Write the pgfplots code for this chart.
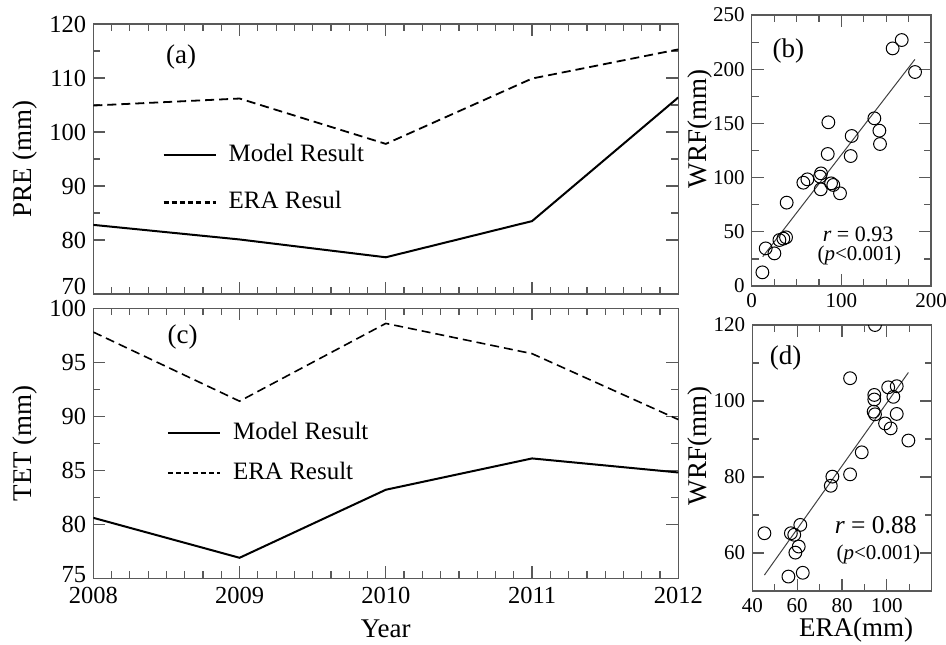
\documentclass[border=0pt]{standalone}
\usepackage{fontspec}
\setmainfont{Liberation Serif}
\usepackage{pgfplots}
\pgfplotsset{compat=1.18}
\begin{document}
\begin{tikzpicture}
\useasboundingbox (0pt,0pt) rectangle (473pt,322pt);
\pgfplotsset{
  base/.style={scale only axis, anchor=south west,
    axis line style={black!65, line width=0.6pt},
    every tick/.style={black!65, line width=0.6pt},
    major tick length=6pt, minor tick length=3.5pt, tick align=inside,
    /pgf/number format/assume math mode=true,
    /pgf/number format/1000 sep={},
    clip marker paths=true},
  leftp/.style={base, width=292.5pt, height=135pt, xmin=2008, xmax=2012,
    xtick={2008,2009,2010,2011,2012}, minor x tick num=7, minor y tick num=1,
    tick label style={font=\fontsize{12.25}{14}\selectfont},
    label style={font=\fontsize{13.5}{16}\selectfont},
    ylabel style={at={(axis description cs:-0.116,0.5)}, anchor=center},
    legend image code/.code={\draw[##1] (0pt,0pt) -- (26pt,0pt);},
    legend cell align=left,
    legend style={draw=none, fill=none, inner sep=0pt, anchor=west,
      font=\fontsize{12.5}{14}\selectfont,
      nodes={inner sep=0pt, text height=9pt, text depth=3pt},
      /tikz/every odd column/.append style={column sep=6pt}}},
  rightp/.style={base,
    tick label style={font=\fontsize{10.5}{12}\selectfont},
    label style={font=\fontsize{13.5}{16}\selectfont}},
  sc/.style={only marks, mark=o, mark size=3.2pt, black, line width=0.5pt},
  reg/.style={black!75, line width=0.5pt},
}
% (a)
\begin{axis}[leftp, at={(46.65pt,175pt)}, ymin=70, ymax=120,
  ytick={80,90,...,120}, extra y ticks={70},
  extra y tick style={yticklabel style={yshift=4pt}},
  xticklabels={}, ylabel={PRE (mm)},
  legend style={at={(axis cs:2008.47,91.3)}, /tikz/row sep=11.5pt}]
\addlegendimage{black, line width=1pt}
\addlegendentry{Model Result}
\addlegendimage{black, line width=1.1pt, dash pattern=on 2.5pt off 1.6pt}
\addlegendentry{ERA Resul}
\addplot[black, line width=1pt, forget plot] coordinates {(2008,82.8)(2009,80.1)(2010,76.8)(2011,83.5)(2012,106.4)};
\addplot[black, line width=0.9pt, dash pattern=on 4.5pt off 2.5pt, forget plot] coordinates {(2008,104.9)(2009,106.2)(2010,97.8)(2011,109.9)(2012,115.3)};
\node[font=\fontsize{13.5}{16}\selectfont] at (axis cs:2008.6,113.8) {(a)};
\end{axis}
% (c)
\begin{axis}[leftp, at={(46.65pt,32.85pt)}, ymin=75, ymax=100,
  ytick={80,85,...,95}, extra y ticks={75,100},
  extra y tick labels={\raisebox{3.5pt}{75},\raisebox{-1.5pt}{100}},
  xticklabel style={yshift=-1pt},
  ylabel={TET (mm)}, xlabel={Year},
  xlabel style={at={(axis description cs:0.5,-0.188)}, anchor=center},
  legend style={at={(axis cs:2008.5,86.6)}, /tikz/row sep=8pt}]
\addlegendimage{black, line width=1pt}
\addlegendentry{Model Result}
\addlegendimage{black, line width=1.1pt, dash pattern=on 2.5pt off 1.6pt}
\addlegendentry{ERA Result}
\addplot[black, line width=1pt, forget plot] coordinates {(2008,80.6)(2009,76.9)(2010,83.2)(2011,86.1)(2012,84.8)};
\addplot[black, line width=0.8pt, dash pattern=on 4.5pt off 2.5pt, forget plot] coordinates {(2008,97.8)(2009,91.4)(2010,98.6)(2011,95.8)(2012,89.7)};
\node[font=\fontsize{13.5}{16}\selectfont] at (axis cs:2008.61,97.3) {(c)};
\end{axis}
% (b)
\begin{axis}[rightp, at={(375.85pt,179pt)}, width=89.65pt, height=135.5pt,
  xmin=0, xmax=200, ymin=0, ymax=250, xtick={0,100,200}, minor x tick num=3,
  ytick={0,50,...,250}, minor y tick num=1, ylabel={WRF(mm)},
  ylabel style={at={(axis description cs:-0.29,0.58)}, anchor=center}]
\addplot[reg] coordinates {(12.3,27)(182,209)};
\addplot[sc] coordinates {
(11.9,12.6)(15.6,34.7)(25.3,30.1)(30.9,42.4)(35.3,43.7)(38.3,44.9)(39,76.9)
(57.6,95.3)(62.1,98.4)(77,89.2)(77.3,103.9)(76.2,100.9)(84.8,121.8)(85.5,151)
(88.5,94.7)(91,93.2)(98.5,85.5)(110.4,119.9)(111.5,138.4)(136.8,154.7)
(142.4,143.3)(143.1,131)(157.2,219.2)(167.3,226.9)(182.2,197.4)};
\node[font=\fontsize{13.5}{16}\selectfont] at (axis cs:40.8,216.8) {(b)};
\node[font=\fontsize{11}{13}\selectfont, inner sep=0pt] at (axis cs:118.6,47.5) {\textit{r} = 0.93};
\node[font=\fontsize{10.5}{12}\selectfont, inner sep=0pt] at (axis cs:120,27.8) {(\textit{p}<0.001)};
\end{axis}
% (d)
\begin{axis}[rightp, at={(376.15pt,26.5pt)}, width=89.7pt, height=133pt,
  xmin=40, xmax=120, ymin=50, ymax=120, xtick={40,60,80,100},
  minor xtick={50,70,90,110}, ytick={60,80,100,120}, minor ytick={70,90,110},
  xlabel={ERA(mm)}, ylabel={WRF(mm)},
  xlabel style={at={(axis description cs:0.578,-0.147)}, anchor=center},
  ylabel style={at={(axis description cs:-0.29,0.545)}, anchor=center}]
\addplot[reg] coordinates {(45.4,54.2)(109.6,107.5)};
\addplot[sc] coordinates {
(45.4,65.2)(57.2,65.2)(58.7,64.8)(61.4,67.4)(60.7,61.7)(59.2,60.1)(56.1,53.8)
(62.5,54.8)(75,77.7)(75.7,80.1)(83.6,80.7)(88.8,86.5)(83.6,106)(94.7,120)
(94.4,101.6)(94.4,100.4)(94.1,97.2)(94.7,96.5)(100.6,103.6)(102.9,101.1)
(104.4,103.9)(99.2,94.1)(101.7,92.8)(104.4,96.6)(109.6,89.6)};
\node[font=\fontsize{13.5}{16}\selectfont] at (axis cs:54.9,111.2) {(d)};
\node[font=\fontsize{12.75}{15}\selectfont, inner sep=0pt] at (axis cs:95,67.4) {\textit{r} = 0.88};
\node[font=\fontsize{10.5}{12}\selectfont, inner sep=0pt] at (axis cs:96.2,59.6) {(\textit{p}<0.001)};
\end{axis}
\end{tikzpicture}
\end{document}
